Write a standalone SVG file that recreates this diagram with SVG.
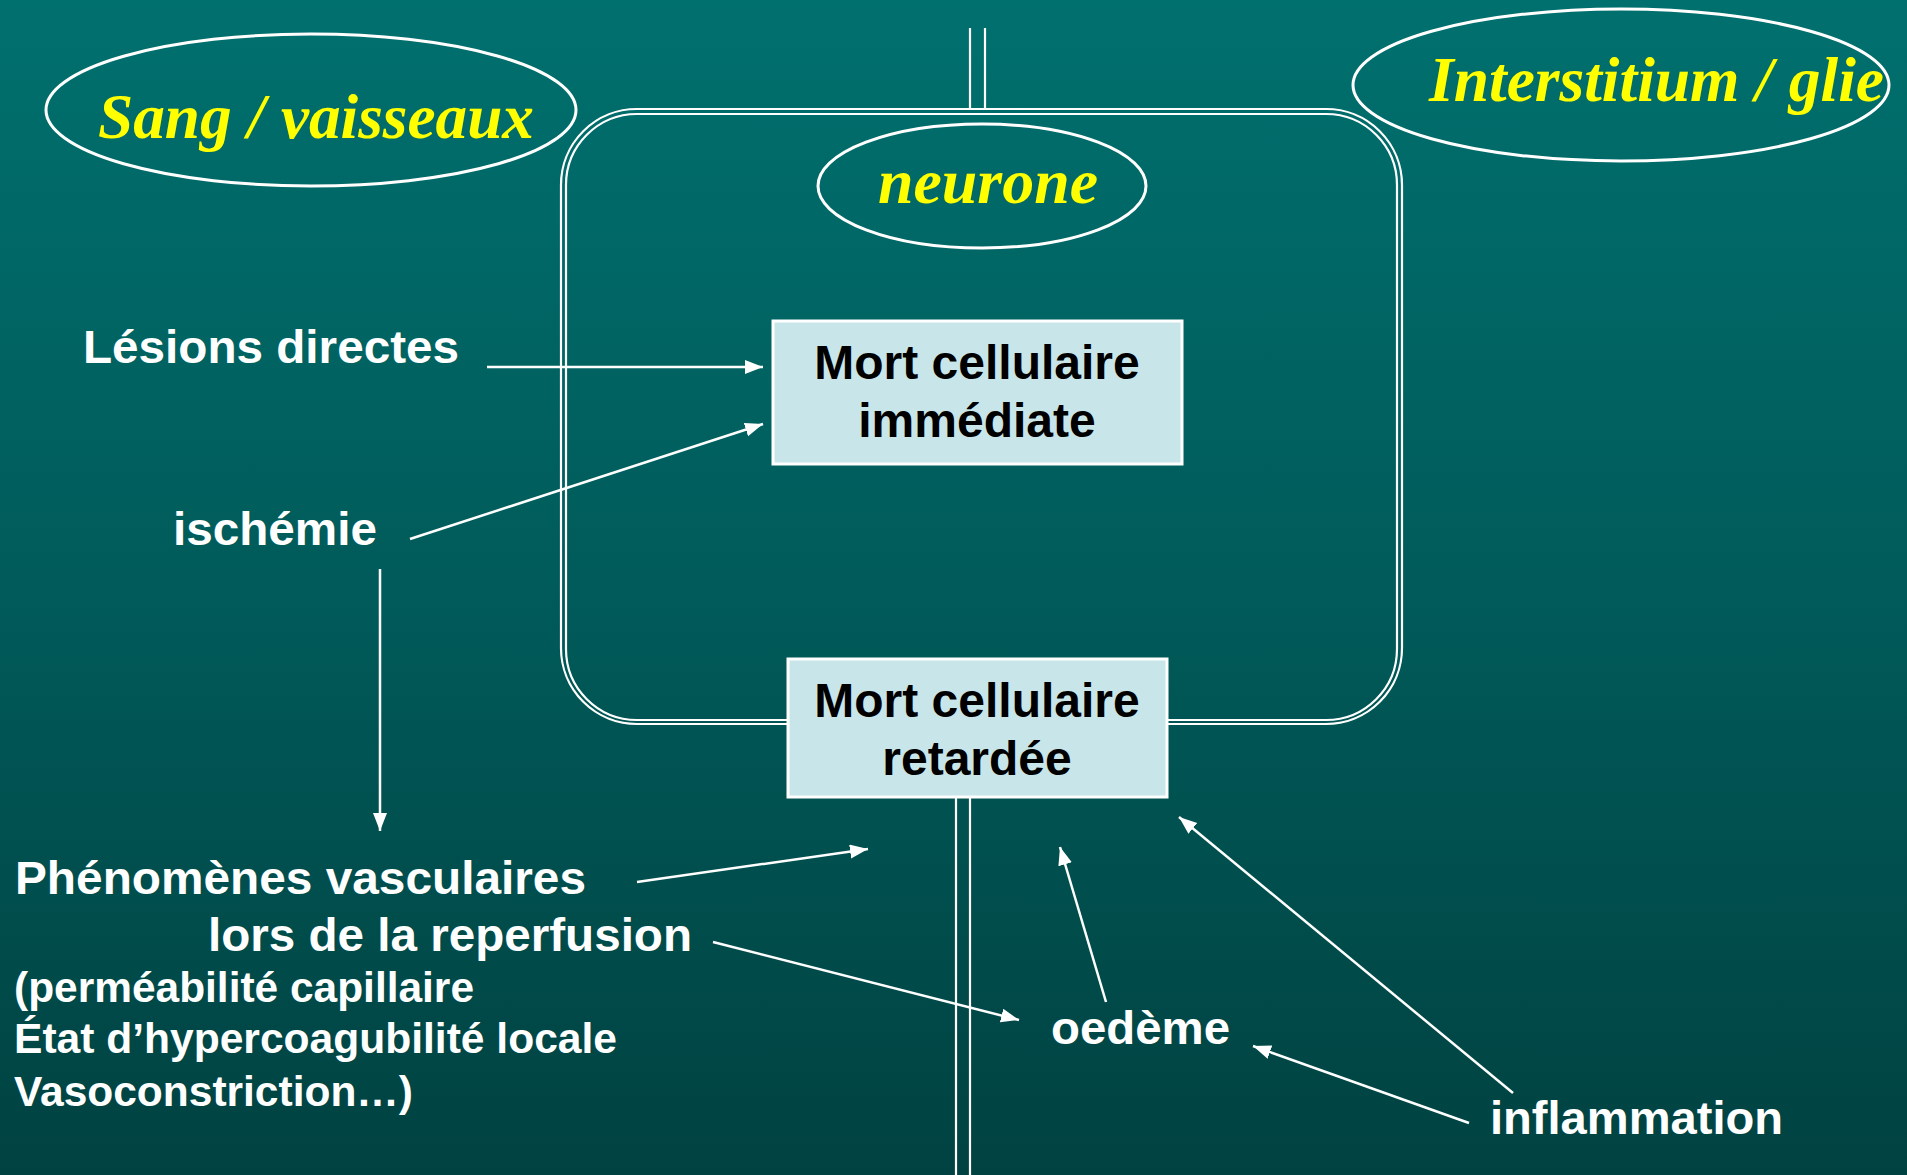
<svg xmlns="http://www.w3.org/2000/svg" width="1907" height="1175" viewBox="0 0 1907 1175">
<defs>
<linearGradient id="bg" x1="0" y1="0" x2="0" y2="1">
<stop offset="0" stop-color="#00706E"/>
<stop offset="0.5" stop-color="#005B5A"/>
<stop offset="1" stop-color="#004241"/>
</linearGradient>
<marker id="ah" markerUnits="userSpaceOnUse" markerWidth="20" markerHeight="16" refX="18" refY="7" orient="auto">
<path d="M0,0 L18,7 L0,14 z" fill="#FFFFFF"/>
</marker>
<style>
.zone{fill:none;stroke:#FFFFFF;stroke-width:3}
.ztxt{font-family:"Liberation Serif","Times New Roman",serif;font-weight:bold;font-style:italic;font-size:64px;fill:#FFFF00}
.mem{fill:none;stroke:#FFFFFF;stroke-width:2.2}
.box{fill:#C8E6E9;stroke:#FFFFFF;stroke-width:3}
.btxt{font-family:"Liberation Sans",Arial,sans-serif;font-weight:bold;font-size:48px;fill:#000000;text-anchor:middle}
.lbl{font-family:"Liberation Sans",Arial,sans-serif;font-weight:bold;font-size:47px;fill:#FFFFFF}
.sub{font-family:"Liberation Sans",Arial,sans-serif;font-weight:bold;font-size:42px;fill:#FFFFFF}
.arr{stroke:#FFFFFF;stroke-width:2.5;fill:none;marker-end:url(#ah)}
.dl{stroke:#FFFFFF;stroke-width:2.2;fill:none}
</style>
</defs>
<rect x="0" y="0" width="1907" height="1175" fill="url(#bg)"/>

<g id="membrane">
<rect x="561" y="109" width="841" height="615" rx="76" ry="76" class="mem"/>
<rect x="566" y="114" width="831" height="606" rx="71" ry="71" class="mem"/>
<line x1="970" y1="28" x2="970" y2="109" class="dl"/>
<line x1="985" y1="28" x2="985" y2="109" class="dl"/>
<line x1="956" y1="797" x2="956" y2="1175" class="dl"/>
<line x1="970" y1="797" x2="970" y2="1175" class="dl"/>
</g>

<g id="sang">
<ellipse cx="311" cy="110" rx="265" ry="76" class="zone"/>
<text x="98" y="138" class="ztxt" textLength="436" lengthAdjust="spacingAndGlyphs">Sang / vaisseaux</text>
</g>

<g id="neurone">
<ellipse cx="982" cy="186" rx="164" ry="62" class="zone"/>
<text x="878" y="203" class="ztxt" textLength="220" lengthAdjust="spacingAndGlyphs">neurone</text>
</g>

<g id="interstitium">
<ellipse cx="1621" cy="85" rx="268" ry="76" class="zone"/>
<text x="1429" y="101" class="ztxt" textLength="455" lengthAdjust="spacingAndGlyphs">Interstitium / glie</text>
</g>

<g id="connectors">
<line x1="487" y1="367" x2="763" y2="367" class="arr"/>
<line x1="410" y1="539" x2="763" y2="424" class="arr"/>
<line x1="380" y1="569" x2="380" y2="831" class="arr"/>
<line x1="637" y1="882" x2="868" y2="849" class="arr"/>
<line x1="713" y1="942" x2="1019" y2="1020" class="arr"/>
<line x1="1106" y1="1002" x2="1060" y2="847" class="arr"/>
<line x1="1513" y1="1093" x2="1179" y2="817" class="arr"/>
<line x1="1469" y1="1123" x2="1253" y2="1046" class="arr"/>
</g>

<g id="mort-immediate">
<rect x="773" y="321" width="409" height="143" class="box"/>
<text x="977" y="379" class="btxt">Mort cellulaire</text>
<text x="977" y="437" class="btxt">immédiate</text>
</g>

<g id="mort-retardee">
<rect x="788" y="659" width="379" height="138" class="box"/>
<text x="977" y="717" class="btxt">Mort cellulaire</text>
<text x="977" y="775" class="btxt">retardée</text>
</g>

<g id="lesions">
<text x="83" y="363" class="lbl" textLength="376" lengthAdjust="spacingAndGlyphs">Lésions directes</text>
</g>

<g id="ischemie">
<text x="173" y="545" class="lbl" textLength="204" lengthAdjust="spacingAndGlyphs">ischémie</text>
</g>

<g id="phenomenes">
<text x="15" y="894" class="lbl" textLength="571" lengthAdjust="spacingAndGlyphs">Phénomènes vasculaires</text>
<text x="208" y="951" class="lbl" textLength="484" lengthAdjust="spacingAndGlyphs">lors de la reperfusion</text>
<text x="14" y="1002" class="sub" textLength="460" lengthAdjust="spacingAndGlyphs">(perméabilité capillaire</text>
<text x="14" y="1053" class="sub" textLength="603" lengthAdjust="spacingAndGlyphs">État d’hypercoagubilité locale</text>
<text x="14" y="1106" class="sub" textLength="399" lengthAdjust="spacingAndGlyphs">Vasoconstriction…)</text>
</g>

<g id="oedeme">
<text x="1051" y="1044" class="lbl" textLength="179" lengthAdjust="spacingAndGlyphs">oedème</text>
</g>

<g id="inflammation">
<text x="1490" y="1134" class="lbl" textLength="293" lengthAdjust="spacingAndGlyphs">inflammation</text>
</g>
</svg>
